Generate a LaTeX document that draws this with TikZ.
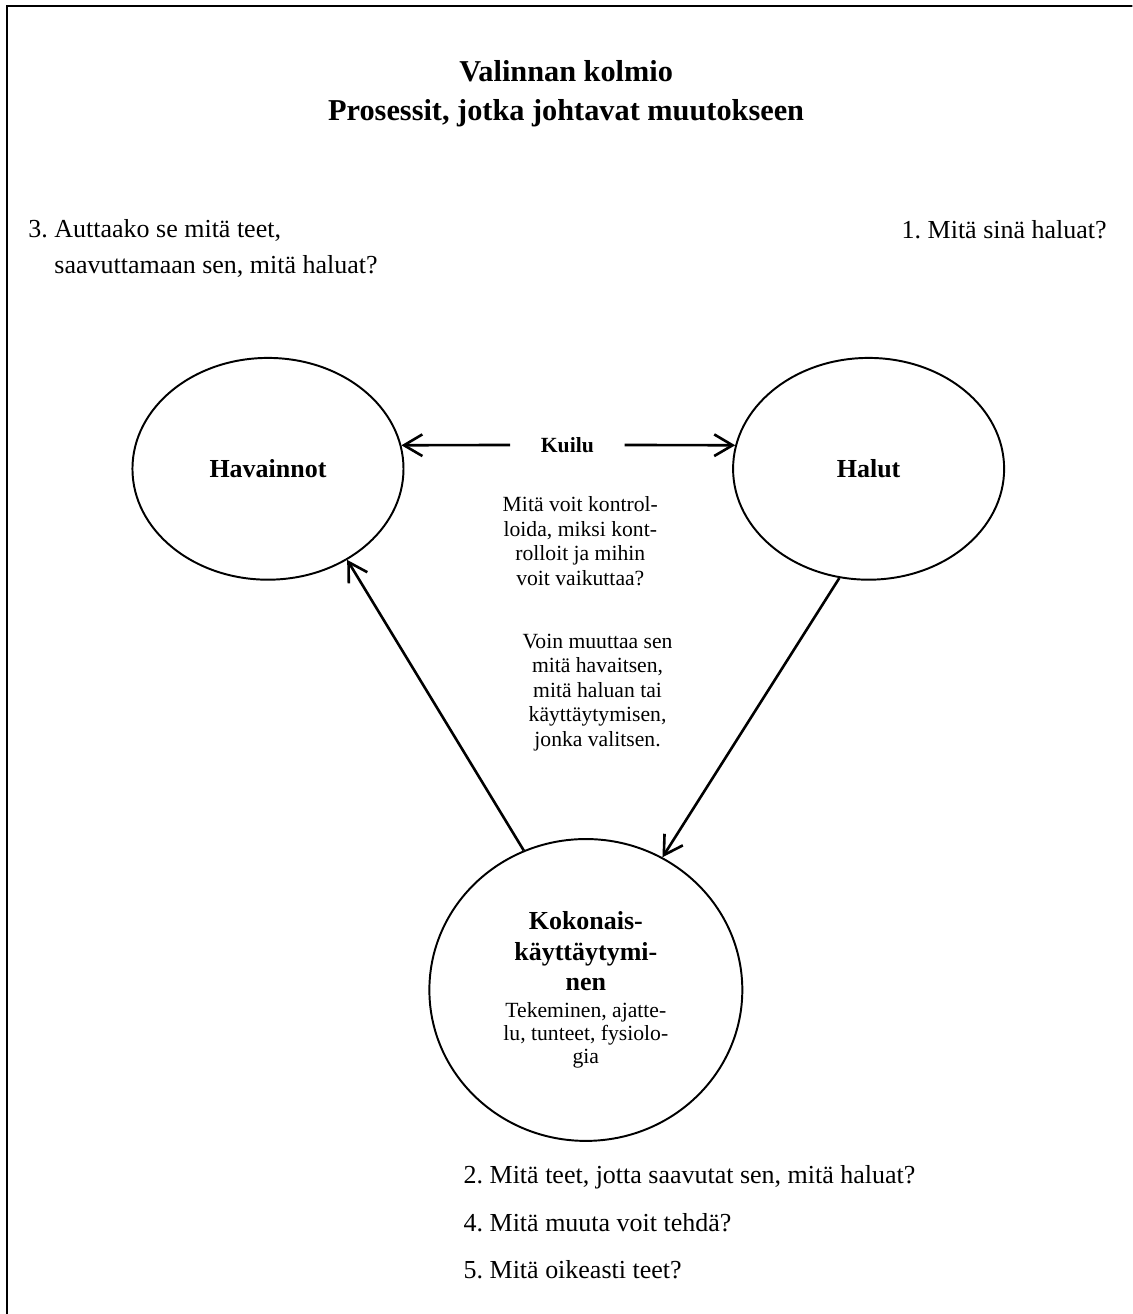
\documentclass[tikz,border=0pt]{standalone}
\usepackage{fontspec}
\setmainfont{Liberation Serif}
\usetikzlibrary{shapes.geometric,arrows.meta,positioning,calc}
\frenchspacing

\begin{document}
\begin{tikzpicture}
	\tikzstyle{pallo}=[ellipse, draw=black, line width=0.9pt, font=\fontsize{12}{14}\selectfont\bfseries, align=center, inner sep=0pt];
	\tikzstyle{nuoli}=[line width=1.2pt, -{Straight Barb[length=8.5pt, width=10pt, line width=1.2pt]}];
	\tikzstyle{pieni}=[font=\fontsize{10}{11.3}\selectfont, align=center, anchor=base, inner sep=0pt];
	\tikzstyle{kysymys}=[font=\fontsize{12}{16.2}\selectfont, align=left, anchor=base west, inner sep=0pt];

	\useasboundingbox (0, 0) rectangle (18.38, -21.33);
	\clip (0, 0) rectangle (18.38, -21.33);
	\draw[line width=0.9pt] (0.12, -0.1) rectangle (19, -22);

	\node[font=\fontsize{14}{18.2}\selectfont\bfseries, align=center, anchor=base] (otsikko) at (9.19, -1.964) {Valinnan kolmio\\Prosessit, jotka johtavat muutokseen};

	\node[kysymys] (k3) at (0.455, -4.432) {3. Auttaako se mitä teet,\\\hphantom{3. }saavuttamaan sen, mitä haluat?};
	\node[kysymys] (k1) at (14.63, -3.864) {1. Mitä sinä haluat?};

	\node[pallo, minimum width=4.40cm, minimum height=3.60cm] (hav) at (4.35, -7.61) {Havainnot};
	\node[pallo, minimum width=4.40cm, minimum height=3.60cm] (hal) at (14.10, -7.61) {Halut};
	\node[pallo, minimum width=5.08cm, minimum height=4.90cm] (koko) at (9.51, -16.07) {Kokonais-\\käyttäytymi-\\nen\\[-1.5pt]{\fontsize{10}{11}\selectfont\mdseries Tekeminen, ajatte-}\\[-3.4pt]{\fontsize{10}{11}\selectfont\mdseries lu, tunteet, fysiolo-}\\[-3.4pt]{\fontsize{10}{11}\selectfont\mdseries gia}};

	\node[font=\fontsize{10}{12}\selectfont\bfseries, inner xsep=14pt, inner ysep=0pt] (kuilu) at (9.21, -7.22) {Kuilu};
	\draw[nuoli] (kuilu) -- (hav.10);
	\draw[nuoli] (kuilu) -- (hal.170);
	\draw[nuoli] (hal.255) -- (koko.60);
	\draw[nuoli] (koko.114) -- (hav.311);

	\node[pieni] (hallinta) at (9.42, -9.497) {Mitä voit kontrol-\\loida, miksi kont-\\rolloit ja mihin\\voit vaikuttaa?};
	\node[pieni] (muutos) at (9.70, -12.111) {Voin muuttaa sen\\mitä havaitsen,\\mitä haluan tai\\käyttäytymisen,\\jonka valitsen.};

	\node[kysymys, font=\fontsize{12}{22}\selectfont] (k2) at (7.52, -20.76) {2. Mitä teet, jotta saavutat sen, mitä haluat?\\4. Mitä muuta voit tehdä?\\5. Mitä oikeasti teet?};
\end{tikzpicture}
\end{document}
